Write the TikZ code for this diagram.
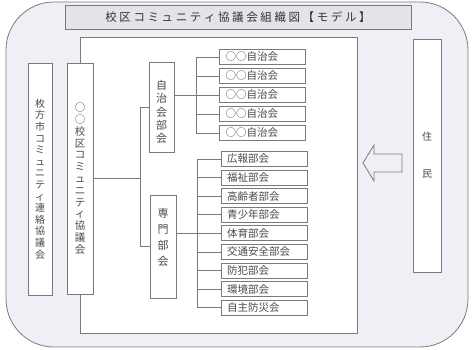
\documentclass[tikz,border=0pt]{standalone}
\usepackage{fontspec}
\setmainfont{Noto Sans CJK JP}
\definecolor{bgc}{HTML}{EEF0F5}
\definecolor{titc}{HTML}{E3E4EA}
\definecolor{lnc}{HTML}{7A7A7A}
\definecolor{txc}{HTML}{4A4A4A}
\def\spaced#1{\spacedA#1\relax}
\def\spacedA#1{\ifx#1\relax\else#1\kern2.6pt\expandafter\spacedA\fi}
\tikzset{
  box/.style={draw=lnc, fill=white, line width=0.8pt, inner sep=0pt, text=txc},
  vbox/.style={box, minimum width=#1, align=center},
  small/.style={box, minimum width=86pt, minimum height=15pt, text width=74pt, inner xsep=6pt, inner ysep=0pt, align=left, font=\fontsize{10.5}{12}\selectfont},
  conn/.style={draw=lnc, line width=0.8pt},
}
\begin{document}
\begin{tikzpicture}[x=1pt,y=-1pt]
\useasboundingbox (0,0) rectangle (472,350);
% outer frame
\draw[draw=lnc, fill=bgc, line width=0.8pt, rounded corners=48pt] (6,2) rectangle (468,347);
% title
\node[box, fill=titc, minimum width=346pt, minimum height=24pt, text=black!80, font=\fontsize{11.5}{13}\selectfont] (title) at (238,17) {\spaced{校区コミュニティ協議会組織図【モデル】}\kern-2.6pt};
% inner white area
\draw[draw=lnc, fill=white, line width=0.8pt] (80,37) rectangle (357,333);
% left boxes
\node[vbox=24pt, minimum height=232pt, font=\fontsize{10}{11.6}\selectfont] (hirakata) at (40,179) {枚\\方\\市\\コ\\ミ\\ュ\\ニ\\テ\\ィ\\連\\絡\\協\\議\\会};
\node[vbox=26pt, minimum height=231pt, font=\fontsize{10.5}{11.8}\selectfont] (kouku) at (80,178.5) {○\\○\\校\\区\\コ\\ミ\\ュ\\ニ\\テ\\ィ\\協\\議\\会};
% middle boxes
\node[vbox=25pt, minimum height=90pt] (jichibu) at (161.5,107) {};
\node[text=txc, align=center, inner sep=0pt, font=\fontsize{11}{13.4}\selectfont] (jichibut) at ([yshift=-5pt]jichibu.center) {自\\治\\会\\部\\会};
\node[vbox=26pt, minimum height=103pt, font=\fontsize{11}{16}\selectfont] (senmon) at (163,246.5) {専\\門\\部\\会\\[4pt]};
% jichikai boxes
\foreach \i in {1,...,5}{
  \node[small] (j\i) at (262.5,{57+19*(\i-1)}) {○○自治会};
}
% senmon boxes
\foreach \i/\t in {1/広報部会,2/福祉部会,3/高齢者部会,4/青少年部会,5/体育部会,6/交通安全部会,7/防犯部会,8/環境部会,9/自主防災会}{
  \node[small] (s\i) at (264,{159+18.6*(\i-1)}) {\t};
}
% residents
\node[vbox=28pt, minimum height=233pt, font=\fontsize{10}{37}\selectfont] (jumin) at (427,155.5) {住\\民};
% connectors
\draw[conn] (kouku.east) -- ++(47,0) coordinate (sp);
\draw[conn] (jichibu.west) -| (sp) |- (senmon.west);
\draw[conn] (jichibu.east |- j3.west) -- (j3.west);
\draw[conn] (j1.west) -- ++(-23,0) |- (j5.west);
\draw[conn] (j2.west) -- ++(-23,0);
\draw[conn] (j4.west) -- ++(-23,0);
\draw[conn] (senmon.east |- s5.west) -- (s5.west);
\draw[conn] (s1.west) -- ++(-23,0) |- (s9.west);
\foreach \i in {2,3,4,6,7,8}{
  \draw[conn] (s\i.west) -- ++(-23,0);
}
% hollow arrow
\draw[draw=lnc, fill=bgc, line width=0.8pt, line join=miter]
  (363,163) -- (374,145) -- (374,154) -- (402,154) -- (402,172) -- (374,172) -- (374,181) -- cycle;
\end{tikzpicture}
\end{document}
